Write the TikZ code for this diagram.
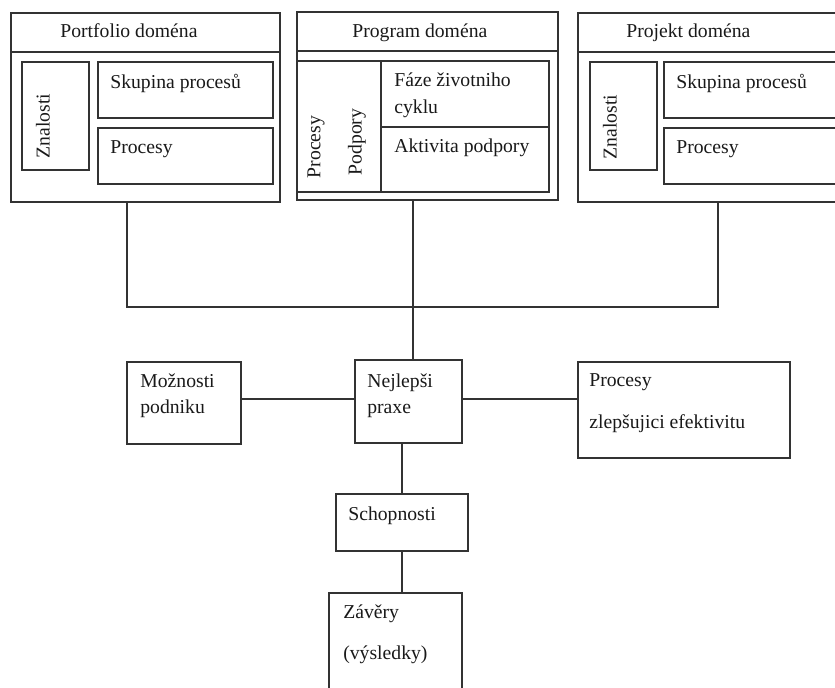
\documentclass[tikz,border=0pt]{standalone}
\usepackage{fontspec}
\setmainfont{Liberation Serif}
\usetikzlibrary{fit}

\tikzset{
  box/.style={draw=black!80, line width=0.8pt, inner sep=0pt},
  txt/.style={anchor=base west, inner sep=0pt, text=black!90},
  vtxt/.style={rotate=90, inner sep=0pt, text=black!90},
  wire/.style={draw=black!80, line width=0.8pt},
}

\begin{document}
\begin{tikzpicture}[x=0.02cm, y=-0.02cm, font=\fontsize{11.2}{13.4}\selectfont]
  \useasboundingbox (0,0) rectangle (835,687);
  \clip (0,0) rectangle (835,687);
  % Portfolio
  \node[box, fit={(11,13) (280,202)}] (port) {};
  \node[box, fit={(11,13) (280,52)}] (porthd) {};
  \node[box, fit={(22,62) (89,170)}] (portzn) {};
  \node[box, fit={(98,62) (273,118)}] (portsk) {};
  \node[box, fit={(98,128) (273,184)}] (portpr) {};
  \node[txt] at (60,37) {Portfolio doména};
  \node[vtxt] at (43,126) {Znalosti};
  \node[txt] at (110,88) {Skupina procesů};
  \node[txt] at (110,153) {Procesy};
  % Program
  \node[box, fit={(297,12) (558,200)}] (prog) {};
  \node[box, fit={(297,12) (558,51)}] (proghd) {};
  \node[box, fit={(297,61) (381,192)}] (progpp) {};
  \node[box, fit={(381,61) (549,127)}] (progfz) {};
  \node[box, fit={(381,127) (549,192)}] (progak) {};
  \node[txt] at (352,37) {Program doména};
  \node[vtxt] at (316,147) {Procesy};
  \node[vtxt] at (357,142) {Podpory};
  \node[txt] at (394,86) {Fáze životniho};
  \node[txt] at (394,113) {cyklu};
  \node[txt] at (394,152) {Aktivita podpory};
  % Projekt
  \node[box, fit={(578,13) (850,202)}] (proj) {};
  \node[box, fit={(578,13) (850,52)}] (projhd) {};
  \node[box, fit={(590,62) (657,170)}] (projzn) {};
  \node[box, fit={(664,62) (850,118)}] (projsk) {};
  \node[box, fit={(664,128) (850,184)}] (projpr) {};
  \node[txt] at (626,37) {Projekt doména};
  \node[vtxt] at (610,127) {Znalosti};
  \node[txt] at (676,88) {Skupina procesů};
  \node[txt] at (676,153) {Procesy};
  % lower part
  \node[box, fit={(127,362) (241,444)}] (mozn) {};
  \node[txt] at (140,387) {Možnosti};
  \node[txt] at (140,413) {podniku};
  \node[box, fit={(355,360) (462,443)}] (nejl) {};
  \node[txt] at (367,387) {Nejlepši};
  \node[txt] at (367,413) {praxe};
  \node[box, fit={(578,362) (790,458)}] (zlep) {};
  \node[txt] at (589,386) {Procesy};
  \node[txt] at (589,428) {zlepšujici efektivitu};
  \node[box, fit={(336,494) (468,551)}] (scho) {};
  \node[txt] at (348,520) {Schopnosti};
  \node[box, fit={(329,593) (462,700)}] (zave) {};
  \node[txt] at (343,618) {Závěry};
  \node[txt] at (343,659) {(výsledky)};
  % connectors
  \coordinate (busL) at (127,307);
  \coordinate (busR) at (718,307);
  \coordinate (busM) at (413,307);
  \coordinate (midY) at (0,399);
  \draw[wire] (port.south -| busL) -- (busL) -- (busR) -- (proj.south -| busR);
  \draw[wire] (prog.south -| busM) -- (nejl.north -| busM);
  \draw[wire] (mozn.east |- midY) -- (nejl.west |- midY);
  \draw[wire] (nejl.east |- midY) -- (zlep.west |- midY);
  \draw[wire] (scho.north |- nejl.south) -- (scho.north);
  \draw[wire] (scho.south) -- (scho.south |- zave.north);
\end{tikzpicture}
\end{document}
